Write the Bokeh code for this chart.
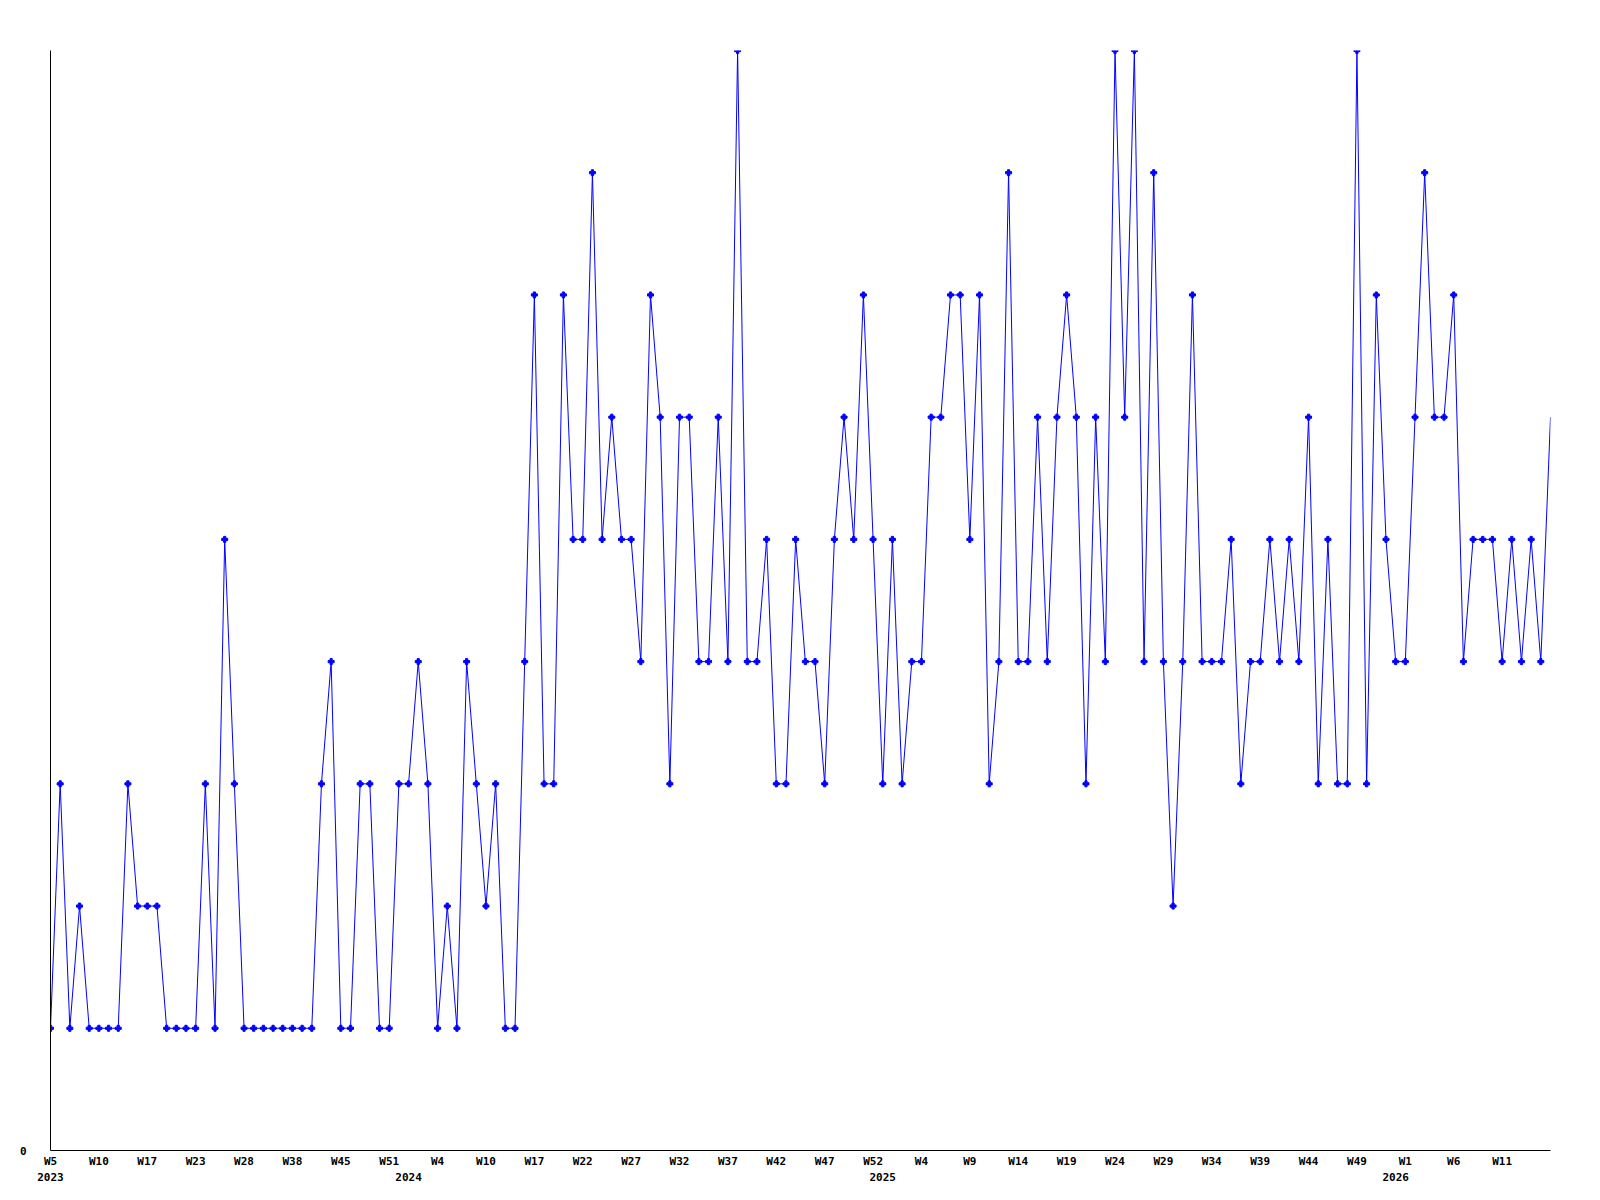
from bokeh.plotting import figure
from bokeh.models import Range1d, FixedTicker, LinearAxis
from bokeh.embed import file_html
from bokeh.resources import INLINE

# Weekly values, 2023 W5 .. 2026 W16 (one entry per plotted week)
values = [
    1, 3, 1, 2, 1, 1, 1, 1, 3, 2,
    2, 2, 1, 1, 1, 1, 3, 1, 5, 3,
    1, 1, 1, 1, 1, 1, 1, 1, 3, 4,
    1, 1, 3, 3, 1, 1, 3, 3, 4, 3,
    1, 2, 1, 4, 3, 2, 3, 1, 1, 4,
    7, 3, 3, 7, 5, 5, 8, 5, 6, 5,
    5, 4, 7, 6, 3, 6, 6, 4, 4, 6,
    4, 9, 4, 4, 5, 3, 3, 5, 4, 4,
    3, 5, 6, 5, 7, 5, 3, 5, 3, 4,
    4, 6, 6, 7, 7, 5, 7, 3, 4, 8,
    4, 4, 6, 4, 6, 7, 6, 3, 6, 4,
    9, 6, 9, 4, 8, 4, 2, 4, 7, 4,
    4, 4, 5, 3, 4, 4, 5, 4, 5, 4,
    6, 3, 5, 3, 3, 9, 3, 7, 5, 4,
    4, 6, 8, 6, 6, 7, 4, 5, 5, 5,
    4, 5, 4, 5, 4, 6,
]

# Week tick labels, shown for every fifth plotted week
week_labels = ["W5", "W10", "W17", "W23", "W28", "W38", "W45", "W51",
               "W4", "W10", "W17", "W22", "W27", "W32", "W37", "W42", "W47", "W52",
               "W4", "W9", "W14", "W19", "W24", "W29", "W34", "W39", "W44", "W49",
               "W1", "W6", "W11"]
label_every = 5

# Year labels and the plotted week at which each year starts
year_labels = ["2023", "2024", "2025", "2026"]
year_start_week = [0, 37, 86, 139]

x = list(range(len(values)))

FONT = "DejaVu Sans Mono"

p = figure(width=1600, height=1200, output_backend="svg", toolbar_location=None,
           x_range=Range1d(0, len(values) - 1), y_range=Range1d(0, max(values)),
           x_axis_location=None, y_axis_location=None,
           min_border_left=50, min_border_right=50, min_border_top=50, min_border_bottom=50)
p.outline_line_color = None
p.background_fill_color = "white"
p.border_fill_color = "white"
p.grid.grid_line_color = None

week_ticks = [i * label_every for i in range(len(week_labels))]


def style(ax, show_line=True):
    ax.axis_line_color = "black" if show_line else None
    ax.axis_line_width = 1
    ax.major_tick_line_color = None
    ax.minor_tick_line_color = None
    ax.major_tick_out = 0
    ax.major_tick_in = 0
    ax.major_label_text_font = FONT
    ax.major_label_text_font_style = "bold"
    ax.major_label_text_font_size = "11px"
    ax.major_label_text_color = "black"


xa = LinearAxis(ticker=FixedTicker(ticks=week_ticks),
                major_label_overrides={t: l for t, l in zip(week_ticks, week_labels)})
style(xa)
xa.major_label_standoff = 4
p.add_layout(xa, "below")

ya_year = LinearAxis(ticker=FixedTicker(ticks=year_start_week),
                     major_label_overrides={t: l for t, l in zip(year_start_week, year_labels)})
style(ya_year, show_line=False)
ya_year.major_label_standoff = 2
p.add_layout(ya_year, "below")

yaxis = LinearAxis(ticker=FixedTicker(ticks=[0]))
style(yaxis)
yaxis.major_label_standoff = 24
p.add_layout(yaxis, "left")

p.line(x, values, line_color="#0000ff", line_width=1)
p.scatter(x[:-1], values[:-1], marker="plus", size=6, color="#0000ff")

open("out.html", "w").write(file_html(p, INLINE))
